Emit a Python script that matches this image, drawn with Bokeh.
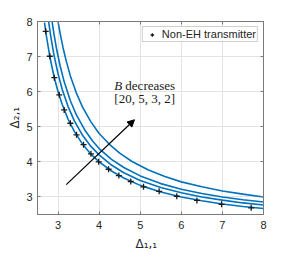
import math
from bokeh.plotting import figure
from bokeh.models import (FixedTicker, LinearAxis, Label, Arrow, NormalHead, Range1d, Title)
from bokeh.embed import file_html
from bokeh.resources import INLINE

# Data
non_eh_x = [2.70, 2.80, 2.91, 3.03, 3.15, 3.30, 3.45, 3.62, 3.80, 3.99, 4.23, 4.48, 4.77, 5.08, 5.46, 5.89, 6.38, 6.98, 7.70]
non_eh_y = [7.72, 7.01, 6.40, 5.91, 5.48, 5.10, 4.77, 4.49, 4.23, 4.00, 3.79, 3.61, 3.44, 3.29, 3.16, 3.02, 2.90, 2.79, 2.69]

b20_x = [2.67, 2.72, 2.8, 2.9, 3.0, 3.1, 3.25, 3.4, 3.6, 3.8, 4.0, 4.3, 4.6, 5.0, 5.5, 6.0, 6.5, 7.0, 7.5, 8.0]
b20_y = [7.97, 7.56, 7.00, 6.44, 6.00, 5.64, 5.20, 4.86, 4.50, 4.22, 4.00, 3.74, 3.54, 3.33, 3.14, 3.00, 2.89, 2.80, 2.73, 2.67]

b5_x = [2.77, 2.82, 2.9, 3.0, 3.1, 3.25, 3.4, 3.6, 3.8, 4.0, 4.3, 4.6, 5.0, 5.5, 6.0, 6.5, 7.0, 7.5, 8.0]
b5_y = [8.00, 7.60, 7.05, 6.51, 6.07, 5.56, 5.16, 4.75, 4.44, 4.20, 3.91, 3.69, 3.47, 3.27, 3.12, 3.00, 2.91, 2.83, 2.77]

b3_x = [2.855, 2.9, 2.97, 3.05, 3.15, 3.3, 3.45, 3.65, 3.85, 4.0, 4.3, 4.6, 5.0, 5.5, 6.0, 6.5, 7.0, 7.5, 8.0]
b3_y = [8.00, 7.65, 7.18, 6.74, 6.28, 5.74, 5.33, 4.91, 4.58, 4.38, 4.07, 3.84, 3.60, 3.38, 3.22, 3.10, 3.00, 2.92, 2.855]

b2_x = [3.0, 3.05, 3.12, 3.2, 3.3, 3.45, 3.6, 3.8, 4.0, 4.25, 4.5, 4.8, 5.2, 5.6, 6.0, 6.5, 7.0, 7.5, 8.0]
b2_y = [8.00, 7.67, 7.26, 6.87, 6.45, 5.95, 5.55, 5.14, 4.81, 4.50, 4.25, 4.01, 3.77, 3.58, 3.43, 3.29, 3.17, 3.08, 3.00]

x_ticks = [3, 4, 5, 6, 7, 8]
y_ticks = [3, 4, 5, 6, 7, 8]
x_label = "Δ₁,₁"
y_label = "Δ₂,₁"

BLUE = "#0072BD"
SANS = "Liberation Sans"
LABF = "DejaVu Sans"
SERIF = "Liberation Serif"
AXC = "#7a7a7a"

p = figure(width=291, height=257, output_backend="svg", toolbar_location=None,
           x_range=Range1d(2.5, 8), y_range=Range1d(2.5, 8),
           min_border_left=37, min_border_right=28, min_border_top=21, min_border_bottom=43)
p.outline_line_color = AXC
p.background_fill_color = "white"
p.border_fill_color = "white"

for ax, ticks in ((p.xaxis[0], x_ticks), (p.yaxis[0], y_ticks)):
    ax.ticker = FixedTicker(ticks=ticks)
    ax.minor_tick_line_color = None
    ax.major_tick_out = 0
    ax.major_tick_in = 3
    ax.axis_line_color = AXC
    ax.major_tick_line_color = AXC
    ax.major_label_text_font = SANS
    ax.major_label_text_font_size = "11px"
    ax.major_label_text_color = "#262626"
p.xaxis.major_label_standoff = 6
p.yaxis.major_label_standoff = 5

for loc, ticks in (("right", y_ticks), ("above", x_ticks)):
    a = LinearAxis(ticker=FixedTicker(ticks=ticks))
    a.minor_tick_line_color = None
    a.major_tick_out = 0
    a.major_tick_in = 3
    a.axis_line_color = AXC
    a.major_tick_line_color = AXC
    a.major_label_overrides = {t: "" for t in ticks}
    a.major_label_standoff = 0
    p.add_layout(a, loc)

# axis titles (outside the frame)
p.add_layout(Title(text=x_label, align="left", offset=98, standoff=7,
                   text_font=LABF, text_font_size="12px", text_font_style="normal",
                   text_color="#262626"), "below")
p.add_layout(Title(text=y_label, align="left", offset=86, standoff=3,
                   text_font=LABF, text_font_size="12px", text_font_style="normal",
                   text_color="#262626"), "left")

p.xgrid.ticker = FixedTicker(ticks=x_ticks)
p.ygrid.ticker = FixedTicker(ticks=y_ticks)
p.grid.grid_line_color = "#e3e3e3"
p.grid.grid_line_width = 1

for xs, ys in ((b20_x, b20_y), (b5_x, b5_y), (b3_x, b3_y), (b2_x, b2_y)):
    p.line(xs, ys, line_color=BLUE, line_width=1.6)

p.scatter(non_eh_x, non_eh_y, marker="cross", size=6, line_width=1.3, color="#1a1a1a",
          legend_label="Non-EH transmitter")

p.add_layout(Arrow(end=NormalHead(size=7, fill_color="black", line_color="black"),
                   x_start=3.2, y_start=3.35, x_end=4.86, y_end=5.2,
                   line_color="black", line_width=1.2))

p.add_layout(Label(x=4.37, y=5.95, text="B", text_font=SERIF, text_font_style="italic",
                   text_font_size="13px", text_color="#1a1a1a"))
p.add_layout(Label(x=4.37, y=5.95, x_offset=11, text="decreases", text_font=SERIF,
                   text_font_size="13px", text_color="#1a1a1a"))
p.add_layout(Label(x=4.37, y=5.58, text="[20, 5, 3, 2]", text_font=SERIF,
                   text_font_size="13px", text_color="#1a1a1a"))

lg = p.legend[0]
lg.location = "top_right"
lg.margin = 5
lg.padding = 1
lg.spacing = 0
lg.glyph_height = 9
lg.glyph_width = 16
lg.label_height = 9
lg.label_standoff = 2
lg.label_text_font = SANS
lg.label_text_font_size = "11px"
lg.label_text_color = "#262626"
lg.border_line_color = "#a0a0a0"
lg.border_line_width = 1
lg.background_fill_alpha = 1

open("out.html", "w").write(file_html(p, INLINE))
